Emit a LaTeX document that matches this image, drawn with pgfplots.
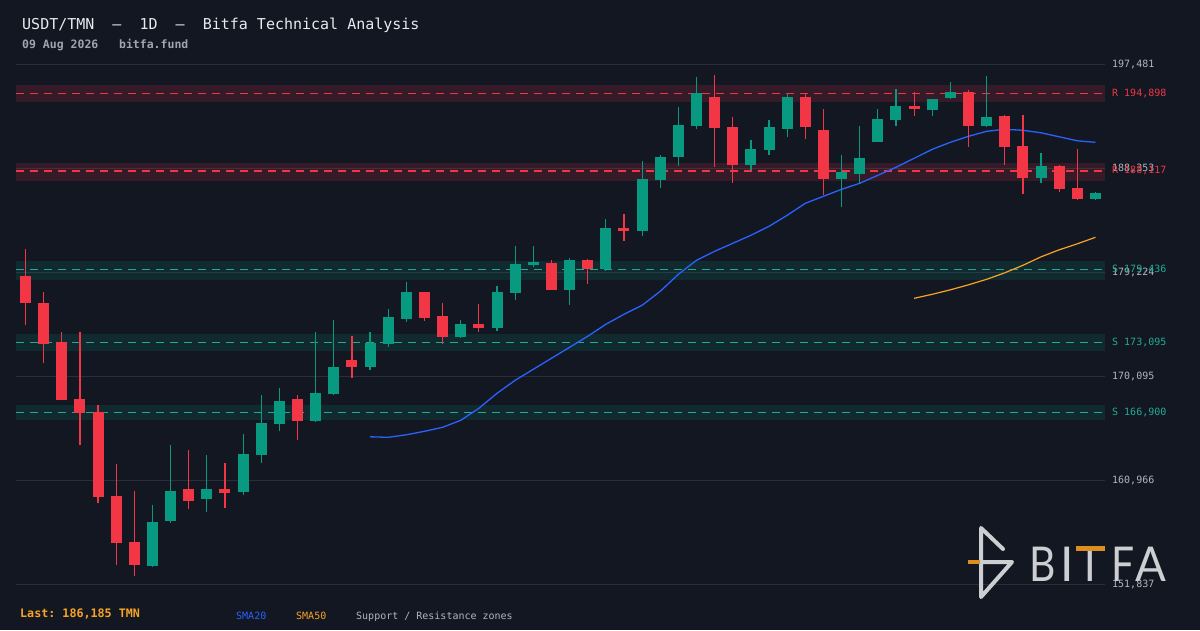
\documentclass[border=0pt]{standalone}
\usepackage{fontspec}
\setmonofont{DejaVu Sans Mono}
\newfontfamily\logofont{Lato}
\usepackage{pgfplots}
\usepackage{pgfplotstable}
\pgfplotsset{compat=1.18}
\definecolor{bgc}{RGB}{19,23,34}
\definecolor{gridc}{RGB}{42,46,57}
\definecolor{cred}{RGB}{242,54,69}
\definecolor{cgreen}{RGB}{8,153,129}
\definecolor{cteal}{RGB}{34,171,148}
\definecolor{cblue}{RGB}{41,98,255}
\definecolor{corange}{RGB}{247,163,37}
\definecolor{ticktext}{RGB}{178,181,190}
\definecolor{titlec}{RGB}{232,234,240}
\definecolor{subc}{RGB}{160,164,172}
\definecolor{logoc}{RGB}{205,206,210}
\definecolor{logoorange}{RGB}{222,142,32}

% x = candle index, lo/hi = body, low/high = wick
\pgfplotstableread{
x lo hi low high
0 176529 178872 174571 181242
1 172930 176502 171262 177468
2 168014 173079 167980 173957
3 166873 168076 164038 173957
4 159500 166935 158973 167549
5 155462 159561 153531 162370
6 153531 155524 152565 160000
9 159149 160176 158447 163599
11 159851 160176 158534 162458
15 166171 168076 164503 168427
18 170911 171499 169945 173606
22 175212 177468 174949 177500
23 173544 175361 172930 176502
25 174334 174659 173983 176415
29 177670 180013 177640 180277
31 179513 180277 178196 180364
33 182849 183086 181971 184314
38 191890 194584 188466 196515
39 188642 191951 187062 192829
43 191977 194584 190924 194935
44 187413 191688 186008 193531
49 193557 193794 192943 195023
52 192065 195023 190222 195199
54 190222 192917 188642 193004
55 187501 190283 186096 193004
57 186535 188528 186272 188616
58 185657 186597 185570 190020
}\redc

\pgfplotstableread{
x lo hi low high
7 153444 157279 153356 158771
8 157393 160000 157218 164038
10 159324 160176 158183 163160
12 159939 163248 159675 165004
13 163187 165969 162484 168427
14 165908 167900 165293 169041
16 166171 168602 166083 173957
17 168541 170885 168453 175010
19 170911 173018 170648 173957
20 172930 175273 172666 175976
21 175124 177468 174861 178346
24 173544 174659 173457 175010
26 174334 177468 174071 177995
27 177406 179926 176792 181506
28 179864 180101 179689 181506
30 177670 180277 176353 180452
32 179513 183086 179337 183876
34 182849 187387 182410 188967
35 187325 189318 186623 189493
36 189344 192127 188554 193707
37 192039 194935 191802 196340
40 188642 190020 188177 190810
41 189959 191951 189520 192565
42 191802 194584 191100 194935
45 187413 188001 184955 189493
46 187852 189230 186974 192039
47 190661 192653 190640 193531
48 192592 193794 192065 195287
50 193470 194409 192943 194430
51 194523 195023 194435 195901
53 192065 192829 191977 196428
56 187501 188528 187062 189669
59 185657 186185 185570 186250
}\greenc

\pgfplotstableread{
x y
19 164784
20 164740
21 164960
22 165267
23 165618
24 166232
25 167286
26 168602
27 169743
28 170709
29 171675
30 172640
31 173606
32 174659
33 175537
34 176327
35 177556
36 179048
37 180277
38 181067
39 181769
40 182471
41 183261
42 184227
43 185280
44 185894
45 186509
46 187036
47 187738
48 188440
49 189230
50 190020
51 190634
52 191161
53 191600
54 191775
55 191688
56 191468
57 191117
58 190766
59 190634
}\smatwenty

\pgfplotstableread{
x y
49 176941
50 177292
51 177687
52 178126
53 178609
54 179179
55 179838
56 180584
57 181198
58 181725
59 182296
}\smafifty

\begin{document}
\begin{tikzpicture}[x=1pt,y=1pt]
\fill[bgc] (0,0) rectangle (1200,630);
\begin{axis}[
  at={(16pt,45.7pt)}, anchor=south west,
  scale only axis, width=1089pt, height=520pt,
  xmin=-0.524, xmax=59.524, ymin=151837, ymax=197481,
  axis line style={draw=none},
  xtick=\empty,
  scaled y ticks=false,
  ytick={151837,160966,170095,179224,188353,197481},
  yticklabels={{151,837},{160,966},{170,095},{179,224},{188,353},{197,481}},
  yticklabel pos=right,
  major tick length=0pt,
  ymajorgrids,
  major grid style={draw=gridc, line width=1pt},
  yticklabel style={font=\fontsize{10}{12}\selectfont\ttfamily, text=ticktext, inner sep=0pt, xshift=7pt, anchor=west},
  clip=false,
]
% zones
\addplot[draw=none, fill=cred, fill opacity=0.15] coordinates {(-0.524,194172) (59.524,194172) (59.524,195638) (-0.524,195638)} -- cycle;
\addplot[draw=none, fill=cred, fill opacity=0.15] coordinates {(-0.524,187237) (59.524,187237) (59.524,188853) (-0.524,188853)} -- cycle;
\addplot[draw=none, fill=cgreen, fill opacity=0.15] coordinates {(-0.524,178521) (59.524,178521) (59.524,180189) (-0.524,180189)} -- cycle;
\addplot[draw=none, fill=cgreen, fill opacity=0.15] coordinates {(-0.524,172315) (59.524,172315) (59.524,173781) (-0.524,173781)} -- cycle;
\addplot[draw=none, fill=cgreen, fill opacity=0.15] coordinates {(-0.524,166232) (59.524,166232) (59.524,167549) (-0.524,167549)} -- cycle;
\addplot[cred, line width=1.2pt, dash pattern=on 7.5pt off 6.5pt] coordinates {(-0.524,194898) (59.524,194898)};
\addplot[cred, line width=1.2pt, dash pattern=on 7.5pt off 6.5pt] coordinates {(-0.524,188117) (59.524,188117)};
\addplot[cteal, line width=1.2pt, dash pattern=on 7.5pt off 6.5pt] coordinates {(-0.524,179436) (59.524,179436)};
\addplot[cteal, line width=1.2pt, dash pattern=on 7.5pt off 6.5pt] coordinates {(-0.524,173095) (59.524,173095)};
\addplot[cteal, line width=1.2pt, dash pattern=on 7.5pt off 6.5pt] coordinates {(-0.524,166900) (59.524,166900)};
% moving averages
\addplot[cblue, line width=1.3pt] table[x=x,y=y] {\smatwenty};
\addplot[corange, line width=1.2pt] table[x=x,y=y] {\smafifty};
% wicks
\addplot[draw=none, mark=none, error bars/.cd, y dir=plus, y explicit, error mark=none,
  error bar style={draw=cred, line width=1.2pt}]
  table[x=x, y=low, y error expr=\thisrow{high}-\thisrow{low}] {\redc};
\addplot[draw=none, mark=none, error bars/.cd, y dir=plus, y explicit, error mark=none,
  error bar style={draw=cgreen, line width=1.2pt}]
  table[x=x, y=low, y error expr=\thisrow{high}-\thisrow{low}] {\greenc};
% bodies
\addplot[draw=none, mark=none, error bars/.cd, y dir=plus, y explicit, error mark=none,
  error bar style={draw=cred, line width=11pt}]
  table[x=x, y=lo, y error expr=\thisrow{hi}-\thisrow{lo}] {\redc};
\addplot[draw=none, mark=none, error bars/.cd, y dir=plus, y explicit, error mark=none,
  error bar style={draw=cgreen, line width=11pt}]
  table[x=x, y=lo, y error expr=\thisrow{hi}-\thisrow{lo}] {\greenc};
% zone labels
\node[anchor=west, inner sep=0pt, xshift=7pt, font=\fontsize{10}{12}\selectfont\ttfamily, text=cred] at (axis cs:59.524,194898) {R 194,898};
\node[anchor=west, inner sep=0pt, xshift=7pt, font=\fontsize{10}{12}\selectfont\ttfamily, text=cred] at (axis cs:59.524,188117) {R 188,117};
\node[anchor=west, inner sep=0pt, xshift=7pt, font=\fontsize{10}{12}\selectfont\ttfamily, text=cteal] at (axis cs:59.524,179436) {S 179,436};
\node[anchor=west, inner sep=0pt, xshift=7pt, font=\fontsize{10}{12}\selectfont\ttfamily, text=cteal] at (axis cs:59.524,173095) {S 173,095};
\node[anchor=west, inner sep=0pt, xshift=7pt, font=\fontsize{10}{12}\selectfont\ttfamily, text=cteal] at (axis cs:59.524,166900) {S 166,900};
\end{axis}
% header
\node[anchor=base west, inner sep=0pt, text=titlec, font=\fontsize{15}{18}\selectfont\ttfamily] at (22,600.5) {USDT/TMN\ \ –\ \ 1D\ \ –\ \ Bitfa Technical Analysis};
\node[anchor=base west, inner sep=0pt, text=subc, font=\fontsize{11.5}{14}\selectfont\ttfamily\bfseries] at (22,581) {09 Aug 2026\ \ \ bitfa.fund};
% footer
\node[anchor=base west, inner sep=0pt, text=corange, font=\fontsize{11.7}{14}\selectfont\ttfamily\bfseries] at (20,12.7) {Last: 186,185 TMN};
\node[anchor=base west, inner sep=0pt, text=cblue, font=\fontsize{10}{12}\selectfont\ttfamily] at (236,11) {SMA20};
\node[anchor=base west, inner sep=0pt, text=corange, font=\fontsize{10}{12}\selectfont\ttfamily] at (296,11) {SMA50};
\node[anchor=base west, inner sep=0pt, text=ticktext, font=\fontsize{10}{12}\selectfont\ttfamily] at (356,11) {Support / Resistance zones};
% logo
\draw[logoc, line width=4pt, line cap=round, line join=round] (1003,81) -- (981,102) -- (981,33) -- (1012,68) -- (981,68);
\draw[logoorange, line width=4pt] (968,68) -- (980,68);
\begin{scope}[every node/.style={anchor=base, inner sep=0pt, text=logoc, font=\fontsize{48}{50}\selectfont\logofont}]
\node[xscale=0.85] at (1043,48.3) {B};
\node at (1067,48.3) {I};
\node[xscale=0.9] at (1090.5,48.3) {T};
\node[xscale=0.85] at (1123.5,48.3) {F};
\node[xscale=0.95] at (1150.5,48.3) {A};
\end{scope}
\fill[logoorange] (1076,79.5) rectangle (1105,84);
\pgfresetboundingbox
\useasboundingbox (0,0) rectangle (1200,630);
\end{tikzpicture}
\end{document}
